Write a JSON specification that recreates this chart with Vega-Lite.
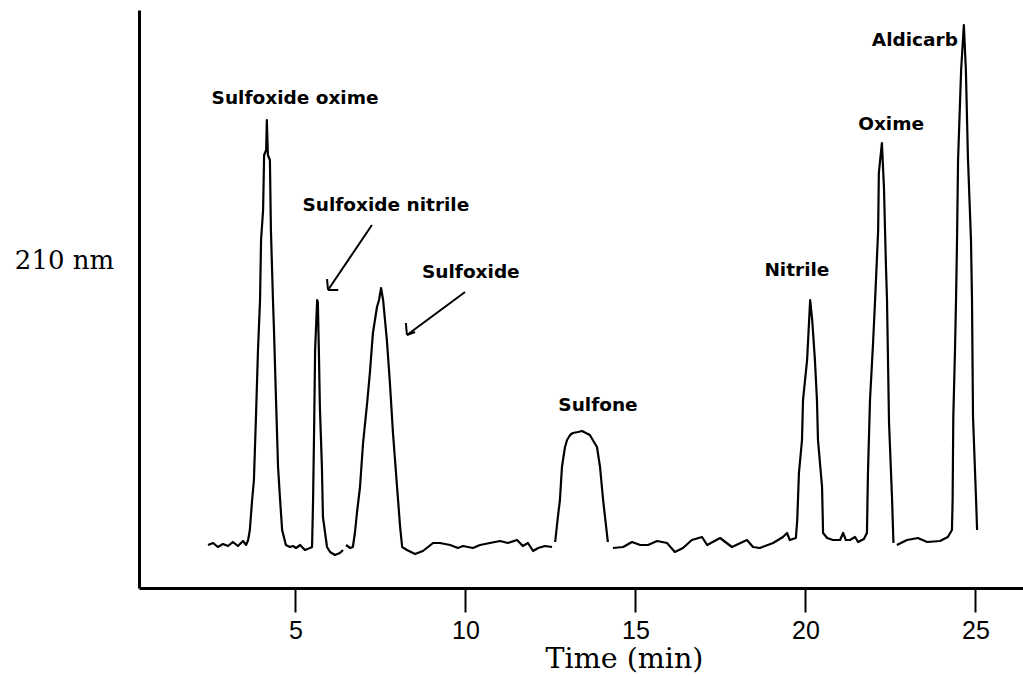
{
  "$schema": "https://vega.github.io/schema/vega-lite/v6.json",
  "width": 884,
  "height": 578,
  "autosize": {"type": "none"},
  "padding": {"left": 139, "top": 10, "right": 0, "bottom": 89},
  "background": "white",
  "config": {"view": {"stroke": null}},
  "datasets": {
    "trace": [
      {"seg": 1, "t": 2.43, "v": 8.6}, {"seg": 1, "t": 2.58, "v": 9.0}, {"seg": 1, "t": 2.72, "v": 8.2}, {"seg": 1, "t": 2.87, "v": 8.8},
      {"seg": 1, "t": 3.02, "v": 8.4}, {"seg": 1, "t": 3.16, "v": 9.2}, {"seg": 1, "t": 3.31, "v": 8.4}, {"seg": 1, "t": 3.46, "v": 9.4},
      {"seg": 1, "t": 3.55, "v": 8.6}, {"seg": 1, "t": 3.61, "v": 9.6}, {"seg": 1, "t": 3.66, "v": 11.6}, {"seg": 1, "t": 3.72, "v": 17.0},
      {"seg": 1, "t": 3.78, "v": 21.6}, {"seg": 1, "t": 3.84, "v": 34.2}, {"seg": 1, "t": 3.90, "v": 47.6}, {"seg": 1, "t": 3.96, "v": 57.6},
      {"seg": 1, "t": 3.99, "v": 69.6}, {"seg": 1, "t": 4.05, "v": 75.6}, {"seg": 1, "t": 4.08, "v": 86.6}, {"seg": 1, "t": 4.14, "v": 87.6},
      {"seg": 1, "t": 4.16, "v": 93.6}, {"seg": 1, "t": 4.19, "v": 86.6}, {"seg": 1, "t": 4.25, "v": 85.6}, {"seg": 1, "t": 4.28, "v": 71.6},
      {"seg": 1, "t": 4.34, "v": 57.6}, {"seg": 1, "t": 4.37, "v": 51.6}, {"seg": 1, "t": 4.43, "v": 37.6}, {"seg": 1, "t": 4.49, "v": 24.2},
      {"seg": 1, "t": 4.55, "v": 17.6}, {"seg": 1, "t": 4.61, "v": 11.6}, {"seg": 1, "t": 4.72, "v": 8.6}, {"seg": 1, "t": 4.84, "v": 8.2},
      {"seg": 1, "t": 4.93, "v": 8.4}, {"seg": 1, "t": 5.02, "v": 8.0}, {"seg": 1, "t": 5.14, "v": 8.6}, {"seg": 1, "t": 5.28, "v": 7.6},
      {"seg": 1, "t": 5.43, "v": 8.0}, {"seg": 1, "t": 5.49, "v": 8.2}, {"seg": 1, "t": 5.52, "v": 17.6}, {"seg": 1, "t": 5.55, "v": 31.6},
      {"seg": 1, "t": 5.58, "v": 47.6}, {"seg": 1, "t": 5.64, "v": 57.6}, {"seg": 1, "t": 5.66, "v": 57.2}, {"seg": 1, "t": 5.69, "v": 47.6},
      {"seg": 1, "t": 5.72, "v": 36.2}, {"seg": 1, "t": 5.78, "v": 24.2}, {"seg": 1, "t": 5.81, "v": 14.2}, {"seg": 1, "t": 5.93, "v": 8.2},
      {"seg": 1, "t": 6.02, "v": 7.2}, {"seg": 1, "t": 6.16, "v": 6.6}, {"seg": 1, "t": 6.31, "v": 7.0}, {"seg": 1, "t": 6.40, "v": 7.6},
      {"seg": 2, "t": 6.49, "v": 8.6}, {"seg": 2, "t": 6.61, "v": 8.0}, {"seg": 2, "t": 6.69, "v": 8.2}, {"seg": 2, "t": 6.75, "v": 11.0},
      {"seg": 2, "t": 6.81, "v": 15.0}, {"seg": 2, "t": 6.90, "v": 20.2}, {"seg": 2, "t": 6.99, "v": 29.0}, {"seg": 2, "t": 7.11, "v": 37.0},
      {"seg": 2, "t": 7.19, "v": 43.0}, {"seg": 2, "t": 7.28, "v": 51.0}, {"seg": 2, "t": 7.40, "v": 56.2}, {"seg": 2, "t": 7.46, "v": 57.6},
      {"seg": 2, "t": 7.52, "v": 60.0}, {"seg": 2, "t": 7.58, "v": 57.6}, {"seg": 2, "t": 7.69, "v": 49.6}, {"seg": 2, "t": 7.78, "v": 41.0},
      {"seg": 2, "t": 7.87, "v": 31.0}, {"seg": 2, "t": 7.99, "v": 20.2}, {"seg": 2, "t": 8.08, "v": 12.2}, {"seg": 2, "t": 8.14, "v": 8.2},
      {"seg": 2, "t": 8.28, "v": 7.6}, {"seg": 2, "t": 8.52, "v": 6.8}, {"seg": 2, "t": 8.75, "v": 7.4}, {"seg": 2, "t": 9.05, "v": 9.0},
      {"seg": 2, "t": 9.25, "v": 9.0}, {"seg": 2, "t": 9.55, "v": 8.6}, {"seg": 2, "t": 9.78, "v": 8.0}, {"seg": 2, "t": 9.93, "v": 8.4},
      {"seg": 2, "t": 10.22, "v": 8.0}, {"seg": 2, "t": 10.43, "v": 8.6}, {"seg": 2, "t": 10.72, "v": 9.0}, {"seg": 2, "t": 11.02, "v": 9.4},
      {"seg": 2, "t": 11.25, "v": 9.0}, {"seg": 2, "t": 11.52, "v": 9.6}, {"seg": 2, "t": 11.69, "v": 8.4}, {"seg": 2, "t": 11.84, "v": 9.0},
      {"seg": 2, "t": 11.99, "v": 7.4}, {"seg": 2, "t": 12.14, "v": 8.0}, {"seg": 2, "t": 12.34, "v": 8.4}, {"seg": 2, "t": 12.55, "v": 8.2},
      {"seg": 3, "t": 12.64, "v": 9.2}, {"seg": 3, "t": 12.72, "v": 14.2}, {"seg": 3, "t": 12.78, "v": 17.6}, {"seg": 3, "t": 12.84, "v": 24.2},
      {"seg": 3, "t": 12.87, "v": 25.6}, {"seg": 3, "t": 12.93, "v": 28.2}, {"seg": 3, "t": 12.99, "v": 29.6}, {"seg": 3, "t": 13.08, "v": 30.6},
      {"seg": 3, "t": 13.16, "v": 31.0}, {"seg": 3, "t": 13.31, "v": 31.2}, {"seg": 3, "t": 13.43, "v": 31.4}, {"seg": 3, "t": 13.66, "v": 30.6},
      {"seg": 3, "t": 13.87, "v": 28.2}, {"seg": 3, "t": 13.96, "v": 24.2}, {"seg": 3, "t": 14.05, "v": 17.6}, {"seg": 3, "t": 14.16, "v": 11.0},
      {"seg": 3, "t": 14.19, "v": 9.2},
      {"seg": 4, "t": 14.34, "v": 8.0}, {"seg": 4, "t": 14.64, "v": 8.2}, {"seg": 4, "t": 14.90, "v": 9.2}, {"seg": 4, "t": 15.14, "v": 8.6},
      {"seg": 4, "t": 15.37, "v": 8.6}, {"seg": 4, "t": 15.64, "v": 9.4}, {"seg": 4, "t": 15.93, "v": 9.0}, {"seg": 4, "t": 16.16, "v": 7.2},
      {"seg": 4, "t": 16.40, "v": 8.0}, {"seg": 4, "t": 16.66, "v": 9.6}, {"seg": 4, "t": 16.96, "v": 10.2}, {"seg": 4, "t": 17.11, "v": 8.6},
      {"seg": 4, "t": 17.49, "v": 10.0}, {"seg": 4, "t": 17.84, "v": 8.2}, {"seg": 4, "t": 18.28, "v": 9.6}, {"seg": 4, "t": 18.46, "v": 8.2},
      {"seg": 4, "t": 18.66, "v": 8.0}, {"seg": 4, "t": 19.05, "v": 9.0}, {"seg": 4, "t": 19.34, "v": 10.2}, {"seg": 4, "t": 19.46, "v": 11.0},
      {"seg": 4, "t": 19.54, "v": 9.6}, {"seg": 4, "t": 19.72, "v": 10.0}, {"seg": 4, "t": 19.76, "v": 13.6}, {"seg": 4, "t": 19.81, "v": 23.0},
      {"seg": 4, "t": 19.90, "v": 29.6}, {"seg": 4, "t": 19.93, "v": 37.6}, {"seg": 4, "t": 20.05, "v": 45.6}, {"seg": 4, "t": 20.11, "v": 53.6},
      {"seg": 4, "t": 20.14, "v": 57.6}, {"seg": 4, "t": 20.20, "v": 53.6}, {"seg": 4, "t": 20.28, "v": 45.6}, {"seg": 4, "t": 20.34, "v": 37.6},
      {"seg": 4, "t": 20.37, "v": 29.6}, {"seg": 4, "t": 20.49, "v": 20.2}, {"seg": 4, "t": 20.52, "v": 11.0}, {"seg": 4, "t": 20.64, "v": 10.0},
      {"seg": 4, "t": 20.81, "v": 9.6}, {"seg": 4, "t": 21.02, "v": 9.6}, {"seg": 4, "t": 21.11, "v": 11.0}, {"seg": 4, "t": 21.19, "v": 9.6},
      {"seg": 4, "t": 21.31, "v": 9.6}, {"seg": 4, "t": 21.46, "v": 10.2}, {"seg": 4, "t": 21.55, "v": 9.2}, {"seg": 4, "t": 21.72, "v": 9.8},
      {"seg": 4, "t": 21.81, "v": 11.0}, {"seg": 4, "t": 21.84, "v": 23.0}, {"seg": 4, "t": 21.90, "v": 37.6}, {"seg": 4, "t": 21.99, "v": 49.0},
      {"seg": 4, "t": 22.05, "v": 57.6}, {"seg": 4, "t": 22.14, "v": 71.6}, {"seg": 4, "t": 22.16, "v": 83.0}, {"seg": 4, "t": 22.25, "v": 89.0},
      {"seg": 4, "t": 22.31, "v": 80.2}, {"seg": 4, "t": 22.37, "v": 64.2}, {"seg": 4, "t": 22.40, "v": 57.6}, {"seg": 4, "t": 22.46, "v": 33.0},
      {"seg": 4, "t": 22.55, "v": 17.6}, {"seg": 4, "t": 22.58, "v": 11.0}, {"seg": 4, "t": 22.59, "v": 9.0},
      {"seg": 5, "t": 22.69, "v": 8.6}, {"seg": 5, "t": 22.99, "v": 9.6}, {"seg": 5, "t": 23.31, "v": 10.0}, {"seg": 5, "t": 23.58, "v": 9.2},
      {"seg": 5, "t": 23.96, "v": 9.4}, {"seg": 5, "t": 24.19, "v": 10.2}, {"seg": 5, "t": 24.31, "v": 11.6}, {"seg": 5, "t": 24.33, "v": 17.6},
      {"seg": 5, "t": 24.35, "v": 34.2}, {"seg": 5, "t": 24.40, "v": 47.6}, {"seg": 5, "t": 24.43, "v": 57.6}, {"seg": 5, "t": 24.46, "v": 69.6},
      {"seg": 5, "t": 24.49, "v": 85.6}, {"seg": 5, "t": 24.58, "v": 103.6}, {"seg": 5, "t": 24.66, "v": 112.6}, {"seg": 5, "t": 24.72, "v": 103.6},
      {"seg": 5, "t": 24.78, "v": 86.2}, {"seg": 5, "t": 24.87, "v": 69.6}, {"seg": 5, "t": 24.90, "v": 57.6}, {"seg": 5, "t": 24.93, "v": 34.2},
      {"seg": 5, "t": 25.02, "v": 17.6}, {"seg": 5, "t": 25.05, "v": 11.6}
    ],
    "arrows": [
      {"t1": 7.25, "v1": 72.6, "t2": 5.96, "v2": 59.6},
      {"t1": 5.96, "v1": 59.6, "t2": 5.93, "v2": 61.8},
      {"t1": 5.96, "v1": 59.6, "t2": 6.26, "v2": 59.6},
      {"t1": 9.99, "v1": 59.2, "t2": 8.28, "v2": 50.6},
      {"t1": 8.28, "v1": 50.6, "t2": 8.25, "v2": 53.0},
      {"t1": 8.28, "v1": 50.6, "t2": 8.52, "v2": 51.2}
    ],
    "labels": [
      {"label": "Sulfoxide oxime", "t": 4.99, "v": 98.0},
      {"label": "Sulfoxide nitrile", "t": 7.66, "v": 76.6},
      {"label": "Sulfoxide", "t": 10.16, "v": 63.2},
      {"label": "Sulfone", "t": 13.90, "v": 36.6},
      {"label": "Nitrile", "t": 19.75, "v": 63.6},
      {"label": "Oxime", "t": 22.52, "v": 92.8},
      {"label": "Aldicarb", "t": 23.22, "v": 109.6}
    ]
  },
  "layer": [
    {
      "data": {"name": "trace"},
      "mark": {"type": "line", "color": "black", "strokeWidth": 2.2, "strokeJoin": "round"},
      "encoding": {
        "x": {
          "field": "t", "type": "quantitative",
          "scale": {"domain": [0.4, 26.4], "nice": false, "zero": false},
          "axis": {
            "values": [5, 10, 15, 20, 25],
            "title": "Time (min)",
            "titleFont": "DejaVu Serif", "titleFontSize": 28.5, "titleFontWeight": "normal", "titleColor": "black",
            "titleX": 485, "titleY": 79, "titleAlign": "center", "titleBaseline": "alphabetic", "titleAnchor": null,
            "labelFont": "Liberation Sans", "labelFontSize": 25, "labelColor": "black", "labelPadding": 6,
            "labelBaseline": "top",
            "tickSize": 24, "tickWidth": 2, "tickColor": "black",
            "domainColor": "black", "domainWidth": 3,
            "grid": false
          }
        },
        "y": {
          "field": "v", "type": "quantitative",
          "scale": {"domain": [0, 115.6], "nice": false, "zero": false},
          "axis": {
            "title": "210 nm",
            "titleFont": "DejaVu Serif", "titleFontSize": 26, "titleFontWeight": "normal", "titleColor": "black",
            "titleAngle": 0, "titleX": -75, "titleY": 258, "titleAlign": "center", "titleBaseline": "alphabetic", "titleAnchor": null,
            "ticks": false, "labels": false, "grid": false,
            "domainColor": "black", "domainWidth": 3
          }
        },
        "detail": {"field": "seg", "type": "nominal"}
      }
    },
    {
      "data": {"name": "arrows"},
      "mark": {"type": "rule", "color": "black", "strokeWidth": 2},
      "encoding": {
        "x": {"field": "t1", "type": "quantitative"},
        "y": {"field": "v1", "type": "quantitative"},
        "x2": {"field": "t2"},
        "y2": {"field": "v2"}
      }
    },
    {
      "data": {"name": "labels"},
      "mark": {"type": "text", "font": "DejaVu Sans", "fontWeight": "bold", "fontSize": 18.5, "color": "black", "align": "center", "baseline": "middle"},
      "encoding": {
        "x": {"field": "t", "type": "quantitative"},
        "y": {"field": "v", "type": "quantitative"},
        "text": {"field": "label", "type": "nominal"}
      }
    }
  ]
}
